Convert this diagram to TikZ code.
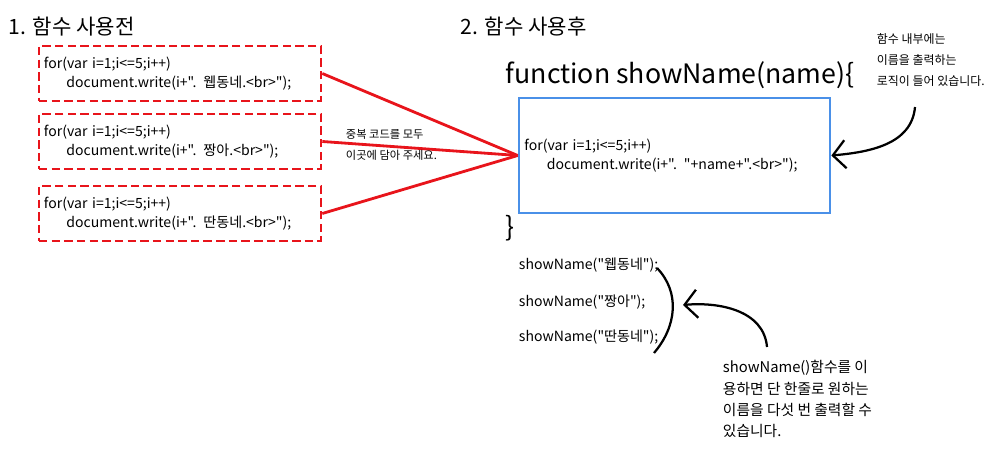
\documentclass[tikz,border=0pt]{standalone}
\usepackage{fontspec}
\setmainfont{Noto Sans CJK KR}[Ligatures=TeXOff]
\usetikzlibrary{arrows.meta}
\definecolor{dashred}{HTML}{E8141B}
\definecolor{boxblue}{HTML}{4A90E8}

\begin{document}
\begin{tikzpicture}[x=0.025cm, y=-0.025cm,
            title/.style={anchor=west, font=\fontsize{15}{17}\selectfont},
            oldbox/.style={draw=dashred, line width=1.8pt, dash pattern=on 6pt off 3pt, minimum width=7.05cm, minimum height=1.375cm, text width=6.8cm, align=left, inner sep=0pt, font=\fontsize{10}{13.5}\selectfont},
            newbox/.style={draw=boxblue, line width=1.8pt, minimum width=7.775cm, minimum height=2.875cm, text width=7.5cm, align=left, inner sep=0pt, font=\fontsize{10}{13}\selectfont},
            flow/.style={dashred, line width=2pt},
            note/.style={anchor=west, align=left, font=\fontsize{8.5}{15}\selectfont},
            call/.style={anchor=west, font=\fontsize{10}{12}\selectfont},
            arr/.style={line width=1.6pt, -{Straight Barb[length=9pt, width=20pt]}}]
            \useasboundingbox (0,0) rectangle (1003,471);
            %\draw[help lines] (0,0) grid[step=50] (1003,471);
            \node[title] (T1) at (4,27) {1. 함수 사용전};
            \node[title] (T2) at (456,27) {2. 함수 사용후};
            \node[oldbox] (B1) at (180,73.5) {for(var i=1;i<=5;i++)\\\hspace*{1.6em}document.write(i+". 웹동네.<br>");};
            \node[oldbox] (B2) at (180,141.5) {for(var i=1;i<=5;i++)\\\hspace*{1.6em}document.write(i+". 짱아.<br>");};
            \node[oldbox] (B3) at (180,213.5) {for(var i=1;i<=5;i++)\\\hspace*{1.6em}document.write(i+". 딴동네.<br>");};
            \node[anchor=west, font=\fontsize{19}{22}\selectfont] (F) at (501,75) {function showName(name)\{};
            \node[newbox] (S) at (674.5,155.5) {for(var i=1;i<=5;i++)\\\hspace*{1.6em}document.write(i+". "+name+".<br>");};
            \node[anchor=west, font=\fontsize{19}{22}\selectfont] (E) at (501,228) {\}};
            \draw[flow] (B1.east) -- (S.west);
            \draw[flow] (B2.east) -- (S.west);
            \draw[flow] (B3.east) -- (S.west);
            \node[note, font=\fontsize{8}{15}\selectfont] (N1) at (341,145) {중복 코드를 모두\\이곳에 담아 주세요.};
            \node[note] (N2) at (872,60) {함수 내부에는\\이름을 출력하는\\로직이 들어 있습니다.};
            \coordinate (A1) at (915,107);
            \draw[arr] (A1) to[out=-95, in=5] (S.east);
            \node[call] (C1) at (514,265) {showName("웹동네");};
            \node[call] (C2) at (514,302) {showName("짱아");};
            \node[call] (C3) at (514,337) {showName("딴동네");};
            \draw[line width=1.6pt] (657,268) .. controls (680,292) and (677,326) .. (654,353);
            \node[note, font=\fontsize{10.5}{15}\selectfont] (N3) at (718,399) {showName()함수를 이\\용하면 단 한줄로 원하는\\이름을 다섯 번 출력할 수\\있습니다.};
            \coordinate (A2) at (767,347);
            \coordinate (A3) at (683,305);
            \draw[arr] (A2) to[out=95, in=5] (A3);
        \end{tikzpicture}
\end{document}
